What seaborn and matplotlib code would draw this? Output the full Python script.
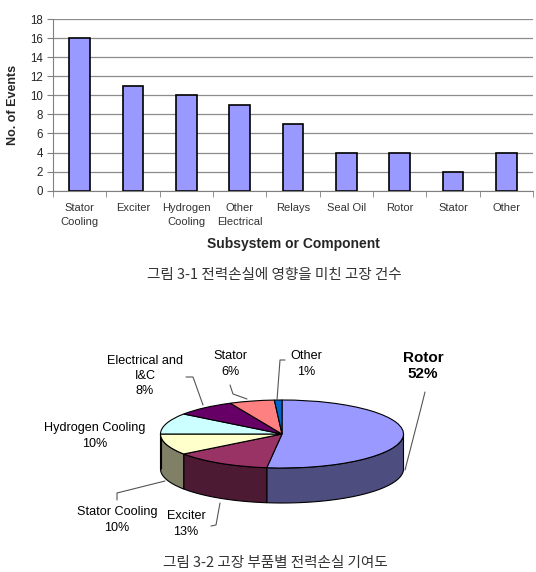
import numpy as np
import pandas as pd
import matplotlib
matplotlib.use("Agg")
import matplotlib.pyplot as plt
from matplotlib.colors import to_rgb
import seaborn as sns

# ============================
# DADOS
# ============================
categories = ["Stator\nCooling", "Exciter", "Hydrogen\nCooling", "Other\nElectrical",
              "Relays", "Seal Oil", "Rotor", "Stator", "Other"]
events = [16, 11, 10, 9, 7, 4, 4, 2, 4]

parts = ["Rotor", "Exciter", "Stator Cooling", "Hydrogen Cooling",
         "Electrical and\nI&C", "Stator", "Other"]
shares = [52, 13, 10, 10, 8, 6, 1]
pie_colors = ["#9999FF", "#993366", "#FFFFCC", "#CCFFFF", "#660066", "#FF8080", "#0066CC"]

caption1 = "그림 3-1 전력손실에 영향을 미친 고장 건수"
caption2 = "그림 3-2 고장 부품별 전력손실 기여도"

sns.set_style("white")
plt.rcParams["font.family"] = ["Liberation Sans", "DejaVu Sans"]
KR = ["Noto Sans CJK KR", "DejaVu Sans"]

W, H = 536, 572
fig = plt.figure(figsize=(W / 100, H / 100), dpi=100)


def box(x0, y0, x1, y1):
    # caixa em pixels (origem no topo) -> retangulo da figura
    return [x0 / W, 1 - y1 / H, (x1 - x0) / W, (y1 - y0) / H]


# ============================
# 1. BARRAS
# ============================
ax = fig.add_axes(box(53, 19, 533, 190.7))
df = pd.DataFrame({"cat": categories, "n": events})
sns.barplot(data=df, x="cat", y="n", order=categories, color="#9999FF",
            saturation=1, edgecolor="black", linewidth=1.2, width=0.39, ax=ax)
ax.set_ylim(0, 18)
ax.set_yticks(range(0, 19, 2))
ax.set_xlim(-0.5, 8.5)
ax.yaxis.grid(True, color="#8c8c8c", lw=0.9)
ax.set_axisbelow(True)
for s in ["top", "right"]:
    ax.spines[s].set_visible(False)
for s in ["left", "bottom"]:
    ax.spines[s].set_color("#808080")
ax.set_xticks(np.arange(-0.5, 9, 1), minor=True)
ax.tick_params(axis="x", which="major", bottom=False, labelsize=8, pad=5, labelcolor="#333333")
ax.tick_params(axis="x", which="minor", bottom=True, length=4, color="#808080")
ax.tick_params(axis="y", left=True, length=4, color="#808080", labelsize=8.3, pad=3)
for lbl in ax.get_xticklabels():
    lbl.set_linespacing(1.55)
ax.set_xlabel("Subsystem or Component", fontsize=10, fontweight="bold", labelpad=7)
ax.set_ylabel("No. of Events", fontsize=9, fontweight="bold", labelpad=8)

# ============================
# 2. PIZZA 3D
# ============================
cx, cy, rx, ry, depth = 282, 434, 121.5, 34, 35
pax = fig.add_axes(box(cx - rx, cy - ry, cx + rx, cy + ry))
wedges, _ = pax.pie(shares, colors=pie_colors, startangle=90, counterclock=False,
                    wedgeprops=dict(edgecolor="black", linewidth=0.8), radius=1)
pax.set_aspect("auto")
pax.set_xlim(-1, 1)
pax.set_ylim(-1, 1)
pax.axis("off")

d = depth / ry
for w, c in zip(wedges, pie_colors):
    for k in (-360, 0, 360):
        a = max(w.theta1 + k, -180)
        b = min(w.theta2 + k, 0)
        if b - a < 1e-6:
            continue
        t = np.radians(np.linspace(a, b, 60))
        xs = np.concatenate([np.cos(t), np.cos(t[::-1])])
        ys = np.concatenate([np.sin(t), np.sin(t[::-1]) - d])
        side = [v * 0.5 for v in to_rgb(c)]
        pax.fill(xs, ys, facecolor=side, edgecolor="black", linewidth=0.8,
                 zorder=0.5, clip_on=False)

# rotulos
ov = fig.add_axes([0, 0, 1, 1])
ov.set_xlim(0, W)
ov.set_ylim(H, 0)
ov.axis("off")

label_pos = [(423, 366), (186, 524), (117, 520), (95, 436), (145, 376), (230, 364), (306, 364)]
for name, pct, (lx, ly) in zip(parts, shares, label_pos):
    big = name == "Rotor"
    ov.text(lx, ly, f"{name}\n{pct}%", ha="center", va="center", multialignment="center",
            fontsize=11 if big else 9.1, fontweight="bold" if big else "normal",
            linespacing=1.2 if big else 1.35, color="black")

leaders = [
    [(425, 392), (421, 408), (405, 470)],
    [(220, 503), (216, 525), (211, 526)],
    [(165, 481), (117, 493), (117, 500)],
    [(186, 377), (193, 377), (203, 405)],
    [(230, 385), (233, 394), (247, 399)],
    [(285, 360), (280, 360), (277, 400)],
]
for pts in leaders:
    xs, ys = zip(*pts)
    ov.plot(xs, ys, color="#555555", lw=0.8)

ov.text(274, 275, caption1, ha="center", va="center", fontsize=10.5, family=KR, color="#333333")
ov.text(275, 563, caption2, ha="center", va="center", fontsize=10.5, family=KR, color="#333333")

fig.savefig("out.png", dpi=100)
